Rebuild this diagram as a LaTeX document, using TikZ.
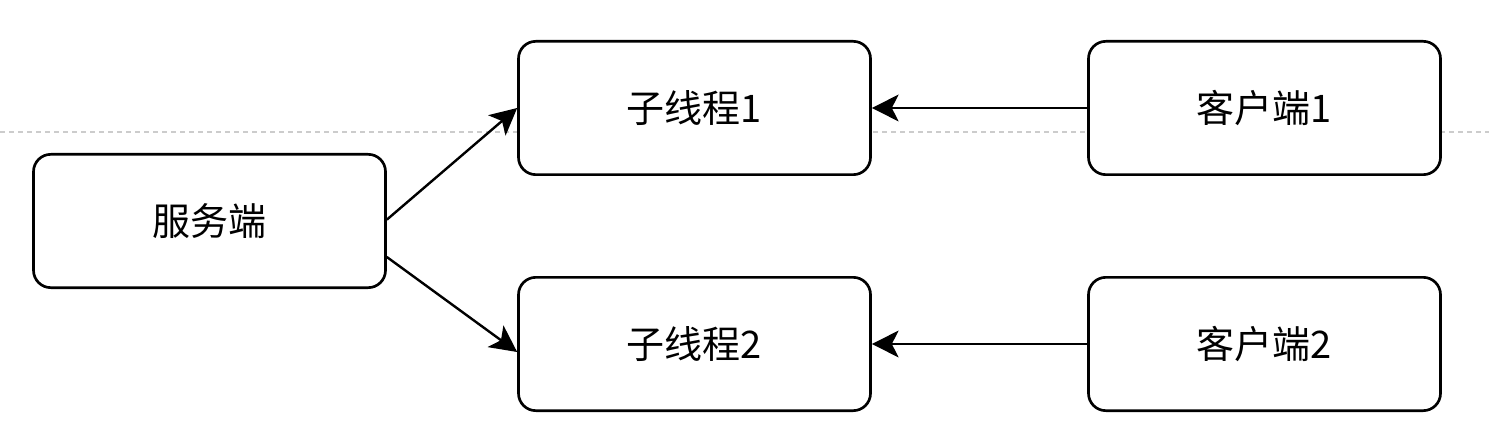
\documentclass[tikz,border=0pt]{standalone}
\usepackage{fontspec}
\newfontfamily\cjk{Noto Sans CJK SC}
\usepackage{tikz}
\usetikzlibrary{positioning, arrows.meta}
\tikzset{>={Stealth[length=20pt,width=20pt,inset=5pt]}}

\begin{document}
\begin{tikzpicture}[x=0.75pt, y=-0.75pt,
        box/.style={draw, line width=2pt, rounded corners=13pt, fill=white,
            minimum width=264pt, minimum height=100pt, inner sep=0pt,
            font=\cjk\fontsize{28.5}{34}\selectfont}]
    \useasboundingbox (0,0) rectangle (1489,442);
    \draw[gray!40, line width=1.1pt, dash pattern=on 3.75pt off 3pt] (0,132) -- (1489,132);

    \node[box] (server) at (209.5,221) {服务端};
    \node[box] (thread1) at (694.5,108) {子线程1};
    \node[box] (thread2) at (694.5,344) {子线程2};
    \node[box] (client1) at (1264.5,108) {客户端1};
    \node[box] (client2) at (1264.5,344) {客户端2};

    \draw[->, line width=1.8pt] ([yshift=1pt]server.east) -- (thread1.west);
    \draw[->, line width=1.8pt] ([yshift=-27pt]server.east) -- ([yshift=-6pt]thread2.west);
    \draw[->, line width=1.8pt] (client1.west) -- (thread1.east);
    \draw[->, line width=1.8pt] (client2.west) -- (thread2.east);
\end{tikzpicture}
\end{document}
